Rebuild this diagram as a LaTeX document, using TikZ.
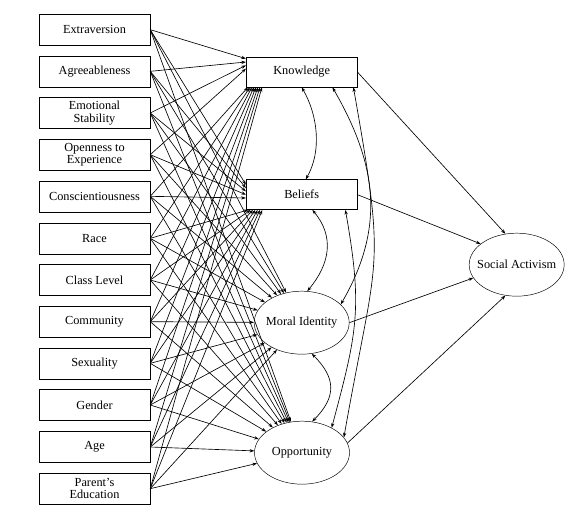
\documentclass[tikz,border=0pt]{standalone}
\usepackage{fontspec}
\setmainfont{Liberation Serif}
\usepackage{tikz}
\usetikzlibrary{arrows.meta,shapes.geometric,positioning}
\tikzset{
  var/.style={rectangle,draw,fill=white,minimum width=3.33cm,
              minimum height=0.93cm,align=center,inner sep=1pt,
              font=\fontsize{10.5}{10.5}\selectfont},
  latent/.style={ellipse,draw,fill=white,minimum width=2.85cm,
                 minimum height=1.89cm,inner ysep=0pt,inner xsep=-0.3cm,
                 font=\fontsize{10.5}{10.5}\selectfont},
  path/.style={-{Stealth[length=4pt,width=2.8pt]},line width=0.55pt},
  cov/.style={{Stealth[length=4pt,width=2.8pt]}-{Stealth[length=4pt,width=2.8pt]},
              line width=0.55pt},
}

\begin{document}
\begin{tikzpicture}[
      med/.style={var,minimum height=0.9cm},
    ]
    \useasboundingbox (0,0) rectangle (17.04,-15.36);

    \node[var] (ext)  at (2.835,-0.89)  {Extraversion};
    \node[var] (agr)  at (2.835,-2.14)  {Agreeableness};
    \node[var] (emo)  at (2.835,-3.39)  {Emotional\\Stability};
    \node[var] (opn)  at (2.835,-4.64)  {Openness to\\Experience};
    \node[var] (con)  at (2.835,-5.89)  {Conscientiousness};
    \node[var] (race) at (2.835,-7.15)  {Race};
    \node[var] (cls)  at (2.835,-8.40)  {Class Level};
    \node[var] (com)  at (2.835,-9.65)  {Community};
    \node[var] (sex)  at (2.835,-10.90) {Sexuality};
    \node[var] (gen)  at (2.835,-12.15) {Gender};
    \node[var] (age)  at (2.835,-13.41) {Age};
    \node[var] (par)  at (2.835,-14.66) {Parent's\\Education};

    \node[med]    (know)  at (9.05,-2.16)  {Knowledge};
    \node[med]    (bel)   at (9.05,-5.84)  {Beliefs};
    \node[latent] (moral) at (9.05,-9.68)  {Moral Identity};
    \node[latent] (opp)   at (9.06,-13.58) {Opportunity};
    \node[latent] (act)   at (15.5,-7.94)  {Social Activism};

    % predictors -> mediators
    \foreach \s [count=\i] in {ext,agr,emo,opn}
      \draw[path] (\s.east) -- ([yshift={(5-\i)*0.1cm}]know.west);
    \foreach \s [count=\i] in {con,race,cls,com,sex,gen,age,par}
      \draw[path] (\s.east) -- ([xshift=\i*0.06cm]know.south west);
    \foreach \s [count=\i] in {ext,agr,emo,opn,con}
      \draw[path] (\s.east) -- ([yshift={(4-\i)*0.1cm}]bel.west);
    \foreach \s [count=\i] in {race,cls,com,sex,gen,age,par}
      \draw[path] (\s.east) -- ([xshift=\i*0.07cm]bel.south west);
    \foreach \s in {ext,agr,emo,opn,con,race,cls,com,sex,gen,age,par}
      \draw[path] (\s.east) -- (moral);
    \foreach \s in {ext,agr,emo,opn,con,race,cls,com,sex,gen,age,par}
      \draw[path] (\s.east) -- (opp);

    % covariances
    \draw[cov] (know.south) to[out=-60,in=60,looseness=0.9] ([xshift=0.12cm]bel.north);
    \draw[cov] ([xshift=-0.75cm]know.south east) to[out=-60,in=60,looseness=1.05] (moral.25);
    \draw[cov] ([xshift=-0.12cm]know.south east) to[out=-80,in=80,looseness=1.4] (opp.20);
    \draw[cov] ([xshift=0.32cm]bel.south) to[out=-50,in=50,looseness=1.1] (moral.80);
    \draw[cov] ([xshift=-0.36cm]bel.south east) to[out=-80,in=75,looseness=1.17] (opp.40);
    \draw[cov] (moral.-72) to[out=-45,in=45,looseness=1.3] (opp.72);

    % mediators -> outcome
    \draw[path] (know.east)  -- (act.110);
    \draw[path] (bel.east)   -- (act.150);
    \draw[path] (moral.east) -- (act.197);
    \draw[path] (opp.12)     -- (act.250);

  \end{tikzpicture}
\end{document}
